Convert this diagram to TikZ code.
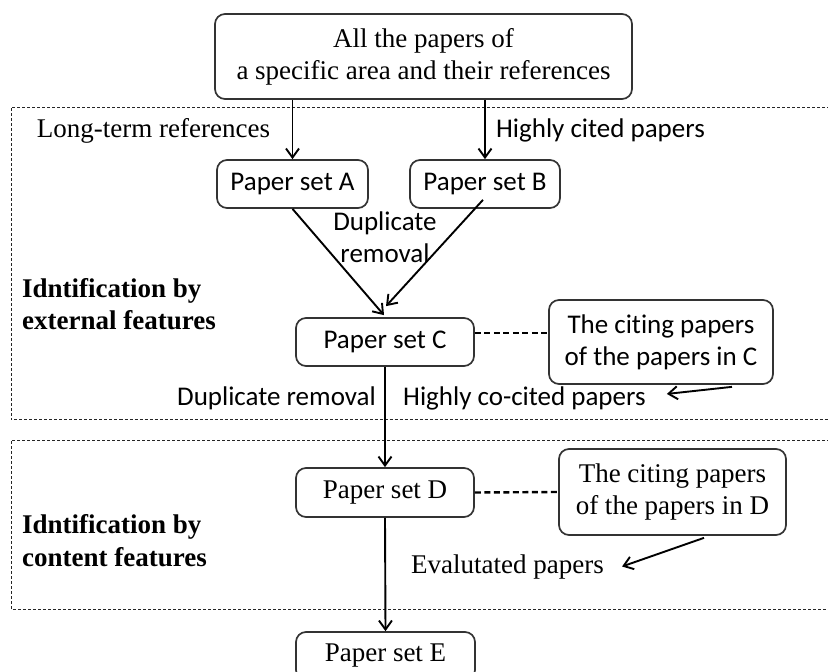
\documentclass[tikz,border=0pt]{standalone}
\usepackage{fontspec}
\setmainfont{Liberation Serif}
\newfontfamily\calib[Ligatures=NoCommon]{Carlito}
\usetikzlibrary{arrows.meta,calc}
\begin{document}
\begin{tikzpicture}[x=1pt,y=-1pt,
  box/.style={draw=black!80, line width=1.7pt, rounded corners=10pt, inner sep=0pt, align=center},
  sbox/.style={box, font=\calib\fontsize{27}{32}\selectfont},
  rbox/.style={box, font=\fontsize{27}{32}\selectfont},
  stxt/.style={inner sep=0pt, font=\calib\fontsize{27}{32}\selectfont},
  rtxt/.style={inner sep=0pt, font=\fontsize{27}{32}\selectfont},
  btxt/.style={inner sep=0pt, font=\bfseries\fontsize{27}{32}\selectfont},
  arr/.style={line width=1.9pt, -{Straight Barb[length=9pt,width=13pt]}},
  frame/.style={line width=1pt, black!85, dash pattern=on 3pt off 2pt},
  link/.style={line width=2.4pt, dash pattern=on 6pt off 3.5pt}
]
\path[use as bounding box, clip] (0,0) rectangle (828,672);

% dashed frames
\draw[frame] (840,107) -- (11,107) -- (11,419.5) -- (840,419.5);
\draw[frame] (840,440) -- (11,440) -- (11,609) -- (840,609);

% boxes
\node[rbox, minimum width=417pt, minimum height=85pt] (top) at (423.5,56.5) {All the papers of\\a specific area and their references};
\node[sbox, minimum width=151pt, minimum height=48pt] (A) at (292.5,184) {Paper set A};
\node[sbox, minimum width=150pt, minimum height=48pt] (B) at (485,184) {Paper set B};
\node[sbox, minimum width=178pt, minimum height=48pt] (C) at (385,342) {Paper set C};
\node[sbox, minimum width=224pt, minimum height=84pt] (citeC) at (661,342) {The citing papers\\of the papers in C};
\node[rbox, minimum width=178pt, minimum height=49pt] (D) at (385,492.5) {Paper set D};
\node[rbox, minimum width=227pt, minimum height=86pt] (citeD) at (672.5,492) {The citing papers\\of the papers in D};
\node[rbox, minimum width=179pt, minimum height=48pt] (E) at (385.5,656) {Paper set E};

% labels
\node[rtxt, anchor=base] (lt) at (153.5,137) {Long-term references};
\node[stxt, anchor=base] (hc) at (600.5,137) {Highly cited papers};
\node[stxt, anchor=base] (dupa) at (385,230) {Duplicate};
\node[stxt, anchor=base] (dupb) at (385,262) {removal};
\node[btxt, anchor=base west] (ext1) at (22,297) {Idntification by};
\node[btxt, anchor=base west] (ext2) at (22,329) {external features};
\node[stxt, anchor=base east] (dupc) at (376,405) {Duplicate removal};
\node[stxt, anchor=base west] (hcc) at (403,405) {Highly co-cited papers};
\node[btxt, anchor=base west] (con1) at (22,533) {Idntification by};
\node[btxt, anchor=base west] (con2) at (22,566) {content features};
\node[rtxt, anchor=base west] (ev) at (411,573) {Evalutated papers};

% connectors
\draw[arr] (A.north |- top.south) -- (A.north);
\draw[arr] (B.north |- top.south) -- (B.north);
\draw[arr] (A.south) -- ([shift={(-1,-2)}]C.north);
\draw[arr] ([shift={(-2,-9)}]B.south) -- ([shift={(1,-11)}]C.north);
\draw[arr] (C.south) -- (D.north);
\draw[arr] (D.south) -- (E.north);
\draw[link] ([yshift=9pt]C.east) -- ([yshift=9pt]citeC.west);
\draw[link] (D.east) -- (citeD.west);
\draw[arr] ([shift={(71,2)}]citeC.south) -- ([shift={(21,-4)}]hcc.east);
\draw[arr] ([shift={(31.5,2)}]citeD.south) -- ([shift={(18,0)}]ev.east);
\end{tikzpicture}
\end{document}
